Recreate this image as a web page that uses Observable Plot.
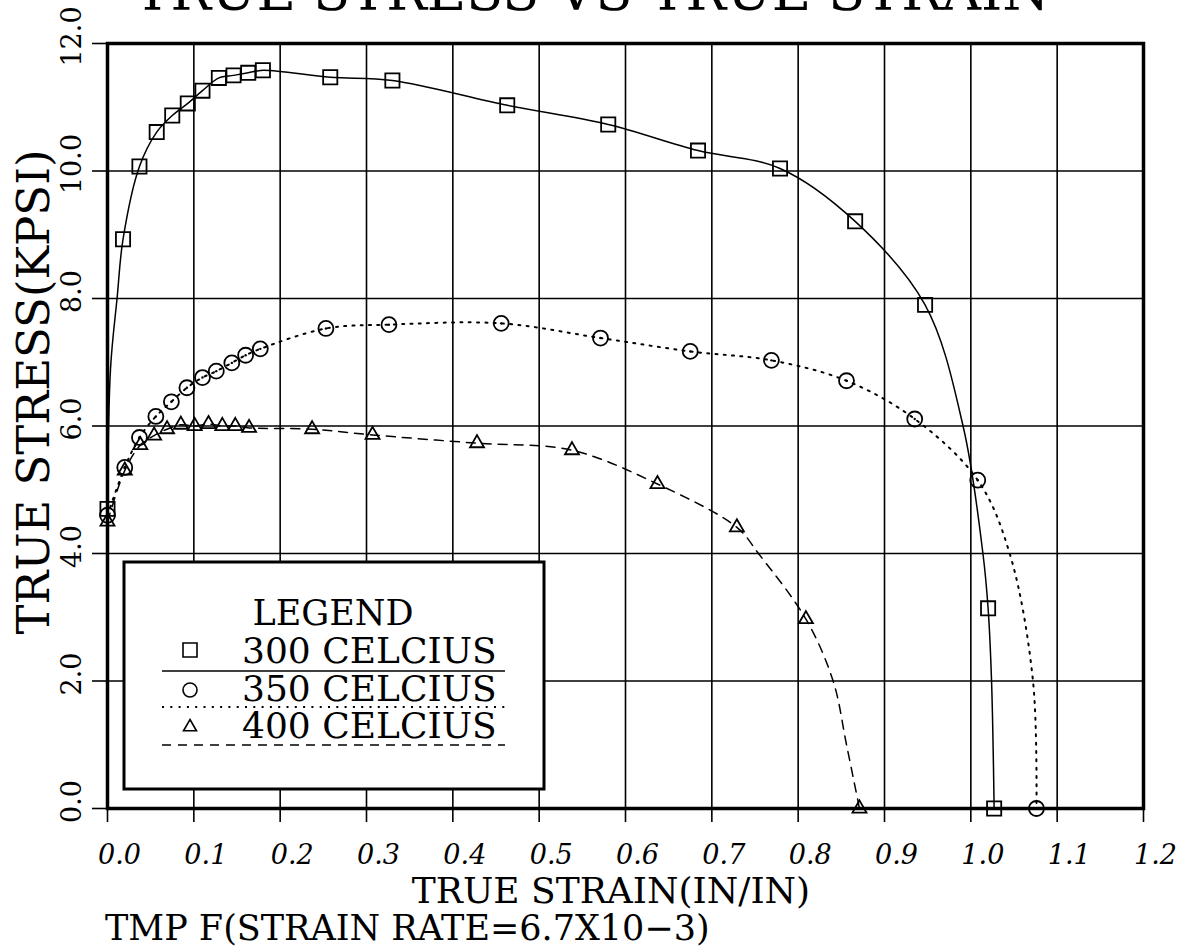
<!DOCTYPE html>
<html>
<head>
<meta charset="utf-8">
<script src="https://cdn.jsdelivr.net/npm/d3@7"></script>
<script src="https://cdn.jsdelivr.net/npm/@observablehq/plot@0.6"></script>
<style>
  html, body { margin: 0; padding: 0; background: #fff; }
  #chart { position: relative; width: 1180px; height: 950px; overflow: hidden; }
</style>
</head>
<body>
<div id="chart"></div>
<script>
// Axis ticks
const xTicks = [0, 0.1, 0.2, 0.3, 0.4, 0.5, 0.6, 0.7, 0.8, 0.9, 1.0, 1.1, 1.2];
const yTicks = [0, 2, 4, 6, 8, 10, 12];

// 300 °C test: measured points (true strain in/in, true stress ksi)
const strain300 = [0, 0.018, 0.037, 0.057, 0.075, 0.093, 0.110, 0.129, 0.146, 0.163, 0.180, 0.258, 0.330, 0.463, 0.580, 0.684, 0.779, 0.866, 0.947, 1.020, 1.027];
const stress300 = [4.7, 8.93, 10.07, 10.61, 10.87, 11.06, 11.26, 11.46, 11.50, 11.54, 11.58, 11.47, 11.42, 11.03, 10.73, 10.32, 10.04, 9.21, 7.90, 3.14, 0];
// extra points along the fitted 300 °C curve
const traceStrain300 = [0.0035, 0.0112, 0.991, 1.014, 1.024];
const traceStress300 = [6.9, 8.02, 6.0, 4.0, 2.0];

// 350 °C test
const strain350 = [0, 0.020, 0.037, 0.056, 0.074, 0.092, 0.110, 0.126, 0.144, 0.160, 0.177, 0.253, 0.326, 0.456, 0.571, 0.675, 0.769, 0.856, 0.935, 1.008, 1.076];
const stress350 = [4.6, 5.35, 5.82, 6.15, 6.38, 6.60, 6.76, 6.86, 6.99, 7.11, 7.21, 7.53, 7.59, 7.61, 7.38, 7.17, 7.03, 6.71, 6.11, 5.15, 0];
const traceStrain350 = [1.045, 1.072];
const traceStress350 = [4.0, 2.0];

// 400 °C test
const strain400 = [0, 0.020, 0.038, 0.054, 0.069, 0.085, 0.101, 0.117, 0.133, 0.148, 0.164, 0.237, 0.307, 0.428, 0.538, 0.637, 0.729, 0.809, 0.871];
const stress400 = [4.5, 5.3, 5.70, 5.85, 5.95, 6.02, 6.00, 6.03, 6.00, 6.00, 5.97, 5.95, 5.86, 5.73, 5.62, 5.09, 4.41, 2.97, 0];
const traceStrain400 = [0.754, 0.8405, 0.856];
const traceStress400 = [4.0, 2.0, 1.0];

const legendLabels = ["300 CELCIUS", "350 CELCIUS", "400 CELCIUS"];

const rows = (xs, ys) => xs.map((x, i) => ({strain: x, stress: ys[i]}));
const curve = (xs, ys, txs, tys) => rows(xs, ys).concat(rows(txs, tys)).sort((a, b) => a.strain - b.strain);

const pts300 = rows(strain300, stress300);
const pts350 = rows(strain350, stress350);
const pts400 = rows(strain400, stress400);
const line300 = curve(strain300, stress300, traceStrain300, traceStress300);
const line350 = curve(strain350, stress350, traceStrain350, traceStress350);
const line400 = curve(strain400, stress400, traceStrain400, traceStress400);

const fmt = d3.format(".1f");
const FONT = "'DejaVu Serif', 'Liberation Serif', serif";
const DOTTED = "2,6.3";
const DASHED = "9,7";

const chart = Plot.plot({
  width: 1180,
  height: 950,
  marginTop: 43,
  marginRight: 37,
  marginBottom: 142,
  marginLeft: 107,
  x: {domain: [0, 1.2]},
  y: {domain: [0, 12]},
  style: {fontFamily: FONT, fontSize: "27px", color: "black", background: "white", overflow: "visible"},
  marks: [
    Plot.gridX(xTicks, {stroke: "black", strokeOpacity: 1, strokeWidth: 1.6}),
    Plot.gridY(yTicks, {stroke: "black", strokeOpacity: 1, strokeWidth: 1.6}),
    // tick marks
    Plot.axisX(xTicks, {tickSize: 14, fill: "none", strokeWidth: 1.6, label: null}),
    Plot.axisY(yTicks, {tickSize: 15, fill: "none", strokeWidth: 1.6, label: null}),
    // tick labels
    Plot.axisX(xTicks, {tickSize: 14, tickPadding: 22, stroke: "none", dx: 12, fontStyle: "italic", tickFormat: fmt, label: null}),
    Plot.axisY(yTicks, {tickSize: 15, tickPadding: 12, tickRotate: -90, stroke: "none", dy: -7, tickFormat: fmt, label: null}),
    // curves
    Plot.line(line300, {x: "strain", y: "stress", curve: "catmull-rom", stroke: "black", strokeWidth: 1.5}),
    Plot.line(line350, {x: "strain", y: "stress", curve: "catmull-rom", stroke: "black", strokeWidth: 2, strokeDasharray: DOTTED}),
    Plot.line(line400, {x: "strain", y: "stress", curve: "catmull-rom", stroke: "black", strokeWidth: 1.5, strokeDasharray: DASHED}),
    // markers
    Plot.dot(pts300, {x: "strain", y: "stress", symbol: "square", r: 8, stroke: "black", strokeWidth: 1.8, fill: "none"}),
    Plot.dot(pts350, {x: "strain", y: "stress", symbol: "circle", r: 7.5, stroke: "black", strokeWidth: 1.8, fill: "none"}),
    Plot.dot(pts350, {x: "strain", y: "stress", r: 1.2, fill: "black", stroke: "none"}),
    Plot.dot(pts400, {x: "strain", y: "stress", symbol: "triangle", r: 5.2, stroke: "black", strokeWidth: 1.8, fill: "none"}),
    Plot.frame({stroke: "black", strokeWidth: 3.5})
  ]
});

document.getElementById("chart").append(chart);

const svg = d3.select(chart);
const txt = (x, y, s, size, anchor = "middle") =>
  svg.append("text").attr("x", x).attr("y", y).attr("text-anchor", anchor)
    .attr("font-family", FONT).attr("font-size", size).attr("fill", "black").text(s);

// title, axis titles, caption
txt(592, 10, "TRUE STRESS VS TRUE STRAIN", 54);
svg.append("text")
  .attr("transform", "translate(49,392) rotate(-90)")
  .attr("text-anchor", "middle").attr("font-family", FONT).attr("font-size", 45).attr("fill", "black")
  .text("TRUE STRESS(KPSI)");
txt(611, 903, "TRUE STRAIN(IN/IN)", 36);
txt(105, 940, "TMP F(STRAIN RATE=6.7X10\u22123)", 35, "start");

// legend box
const lg = svg.append("g").attr("text-anchor", "start");
lg.append("rect").attr("x", 124).attr("y", 562).attr("width", 420).attr("height", 227)
  .attr("fill", "white").attr("stroke", "black").attr("stroke-width", 3);
lg.append("text").attr("x", 333).attr("y", 625).attr("text-anchor", "middle")
  .attr("font-family", FONT).attr("font-size", 35).text("LEGEND");

const symbols = [d3.symbolSquare, d3.symbolCircle, d3.symbolTriangle];
const symSizes = [196, 154, 73];
const dashes = [null, DOTTED, DASHED];
const widths = [1.5, 2, 1.5];
const baseY = [663, 701, 738];
const symY = [650, 690, 727];
const lineY = [671, 707, 745];
legendLabels.forEach((label, i) => {
  lg.append("path")
    .attr("d", d3.symbol(symbols[i], symSizes[i])())
    .attr("transform", `translate(190,${symY[i]})`)
    .attr("fill", "none").attr("stroke", "black").attr("stroke-width", 1.6);
  lg.append("text").attr("x", 242).attr("y", baseY[i]).attr("text-anchor", "start")
    .attr("font-family", FONT).attr("font-size", 36).text(label);
  lg.append("line").attr("x1", 162).attr("x2", 505).attr("y1", lineY[i]).attr("y2", lineY[i])
    .attr("stroke", "black").attr("stroke-width", widths[i])
    .attr("stroke-dasharray", dashes[i]);
});
</script>
</body>
</html>
